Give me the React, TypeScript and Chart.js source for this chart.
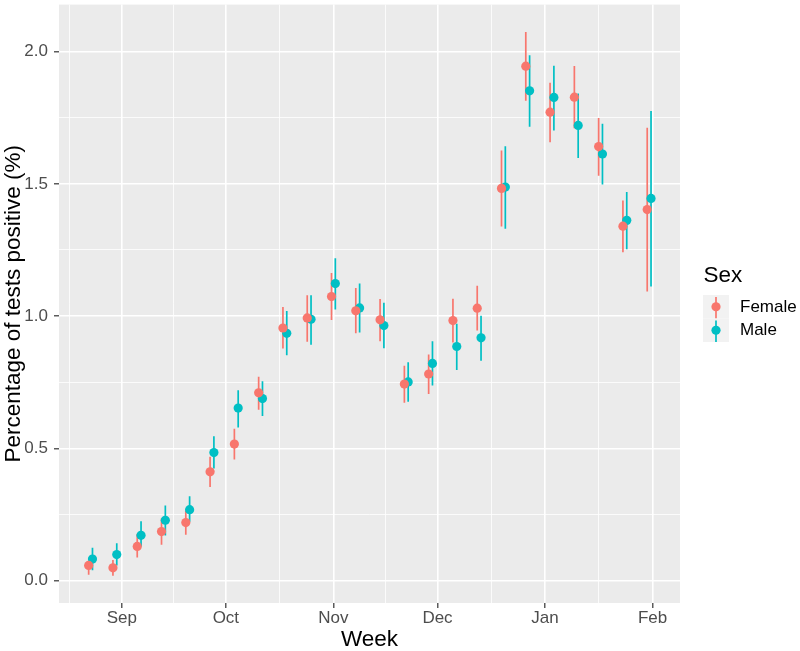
import React, { useEffect, useRef } from 'react';
import { Chart, registerables } from 'chart.js';

Chart.register(...registerables);

// Week centres, in days since 1 September
const weekDays = [-9, -2, 5, 12, 19, 26, 33, 40, 47, 54, 61, 68, 75, 82, 89, 96, 103, 110, 117, 124, 131, 138, 145, 152];

const femaleEst = [0.057, 0.048, 0.129, 0.185, 0.219, 0.411, 0.516, 0.71, 0.955, 0.993, 1.074, 1.02, 0.986, 0.743, 0.781, 0.983, 1.03, 1.483, 1.945, 1.771, 1.828, 1.641, 1.34, 1.403];
const femaleLo = [0.022, 0.018, 0.087, 0.135, 0.173, 0.354, 0.458, 0.646, 0.877, 0.903, 0.985, 0.935, 0.905, 0.672, 0.705, 0.9, 0.946, 1.339, 1.814, 1.657, 1.71, 1.531, 1.241, 1.093];
const femaleHi = [0.075, 0.078, 0.176, 0.235, 0.265, 0.468, 0.574, 0.771, 1.034, 1.079, 1.163, 1.106, 1.065, 0.812, 0.855, 1.066, 1.115, 1.626, 2.074, 1.882, 1.946, 1.749, 1.437, 1.712];

const maleEst = [0.081, 0.098, 0.171, 0.228, 0.268, 0.484, 0.652, 0.688, 0.935, 0.988, 1.123, 1.031, 0.964, 0.751, 0.821, 0.885, 0.918, 1.488, 1.852, 1.827, 1.721, 1.613, 1.362, 1.445];
const maleLo = [0.039, 0.057, 0.129, 0.17, 0.222, 0.424, 0.579, 0.622, 0.852, 0.892, 1.025, 0.938, 0.878, 0.676, 0.738, 0.796, 0.831, 1.33, 1.716, 1.702, 1.598, 1.498, 1.253, 1.112];
const maleHi = [0.124, 0.141, 0.224, 0.284, 0.319, 0.546, 0.72, 0.754, 1.019, 1.079, 1.219, 1.123, 1.05, 0.825, 0.905, 0.971, 1.001, 1.642, 1.986, 1.947, 1.842, 1.727, 1.469, 1.776];

const seriesNames = ['Female', 'Male'];
const seriesColors = ['#F8766D', '#00BFC4'];

const monthLabels = ['Sep', 'Oct', 'Nov', 'Dec', 'Jan', 'Feb'];
const monthDays = [0, 30, 61, 91, 122, 153];
const yMajorTicks = [0, 0.5, 1, 1.5, 2];
const yMinorTicks = [0.25, 0.75, 1.25, 1.75];

const X_MIN = -18.1;
const X_MAX = 160.9;
const Y_MIN = -0.085;
const Y_MAX = 2.178;
const DODGE = 0.55;

const xMinorTicks = (() => {
  const out: number[] = [monthDays[0] - (monthDays[1] - monthDays[0]) / 2];
  for (let i = 0; i < monthDays.length - 1; i++) out.push((monthDays[i] + monthDays[i + 1]) / 2);
  return out.filter((v) => v > X_MIN && v < X_MAX);
})();
const xTicks = [...xMinorTicks, ...monthDays].sort((a, b) => a - b);
const yTicks = [...yMinorTicks, ...yMajorTicks].sort((a, b) => a - b);

const isMajorX = (v: number) => monthDays.includes(v);
const isMajorY = (v: number) => yMajorTicks.includes(v);

const FONT = '"Liberation Sans", Arial, sans-serif';
const TITLE_SIZE = 22.5;
const TEXT_SIZE = 17;

const bgPlugin = {
  id: 'panelBg',
  beforeDraw(chart: any) {
    const { ctx, chartArea, width, height } = chart;
    ctx.save();
    ctx.fillStyle = '#FFFFFF';
    ctx.fillRect(0, 0, width, height);
    ctx.fillStyle = '#EBEBEB';
    ctx.fillRect(chartArea.left, chartArea.top, chartArea.right - chartArea.left, chartArea.bottom - chartArea.top);
    ctx.restore();
  },
};

const errorBarPlugin = {
  id: 'errorBars',
  beforeDatasetsDraw(chart: any) {
    const { ctx, chartArea, scales } = chart;
    const xs = scales.x;
    const ys = scales.y;
    ctx.save();
    ctx.beginPath();
    ctx.rect(chartArea.left, chartArea.top, chartArea.right - chartArea.left, chartArea.bottom - chartArea.top);
    ctx.clip();
    const dsList = chart.data.datasets.slice().reverse();
    dsList.forEach((ds: any) => {
      ctx.strokeStyle = ds.backgroundColor;
      ctx.lineWidth = 1.7;
      ds.data.forEach((pt: any, i: number) => {
        const px = xs.getPixelForValue(pt.x);
        ctx.beginPath();
        ctx.moveTo(px, ys.getPixelForValue(ds.errLo[i]));
        ctx.lineTo(px, ys.getPixelForValue(ds.errHi[i]));
        ctx.stroke();
      });
    });
    ctx.restore();
  },
};

const legendPlugin = {
  id: 'ggLegend',
  afterDraw(chart: any) {
    const { ctx } = chart;
    ctx.save();
    ctx.fillStyle = '#000000';
    ctx.textAlign = 'left';
    ctx.textBaseline = 'alphabetic';
    ctx.font = `${TITLE_SIZE}px ${FONT}`;
    ctx.fillText('Sex', 703.5, 282);
    const keyX = 703;
    const keyW = 26;
    const keyH = 23.5;
    const keyTop = 295;
    seriesNames.forEach((name, i) => {
      const top = keyTop + i * keyH;
      ctx.fillStyle = '#F2F2F2';
      ctx.fillRect(keyX, top, keyW, keyH);
      const cx = keyX + keyW / 2;
      const cy = top + keyH / 2;
      ctx.strokeStyle = seriesColors[i];
      ctx.lineWidth = 1.7;
      ctx.beginPath();
      ctx.moveTo(cx, top + 2);
      ctx.lineTo(cx, top + keyH);
      ctx.stroke();
      ctx.fillStyle = seriesColors[i];
      ctx.beginPath();
      ctx.arc(cx, cy, 4.6, 0, Math.PI * 2);
      ctx.fill();
      ctx.fillStyle = '#000000';
      ctx.font = `${TEXT_SIZE}px ${FONT}`;
      ctx.textBaseline = 'middle';
      ctx.fillText(name, 740, cy + 0.5);
      ctx.textBaseline = 'alphabetic';
    });
    ctx.restore();
  },
};

export default function App() {
  const canvasRef = useRef<HTMLCanvasElement | null>(null);

  useEffect(() => {
    if (!canvasRef.current) return;
    Chart.defaults.font.family = FONT;
    const chart = new Chart(canvasRef.current, {
      type: 'scatter',
      data: {
        datasets: [
          {
            label: seriesNames[0],
            data: weekDays.map((d, i) => ({ x: d - DODGE, y: femaleEst[i] })),
            errLo: femaleLo,
            errHi: femaleHi,
            backgroundColor: seriesColors[0],
            borderWidth: 0,
            pointRadius: 4.6,
            pointHoverRadius: 4.6,
          } as any,
          {
            label: seriesNames[1],
            data: weekDays.map((d, i) => ({ x: d + DODGE, y: maleEst[i] })),
            errLo: maleLo,
            errHi: maleHi,
            backgroundColor: seriesColors[1],
            borderWidth: 0,
            pointRadius: 4.6,
            pointHoverRadius: 4.6,
          } as any,
        ],
      },
      options: {
        animation: false,
        responsive: false,
        events: [],
        layout: { padding: { left: 0, right: 120, top: 2.7, bottom: 0 } },
        plugins: {
          legend: { display: false },
          tooltip: { enabled: false },
        },
        scales: {
          x: {
            type: 'linear',
            min: X_MIN,
            max: X_MAX,
            afterBuildTicks: (s: any) => {
              s.ticks = xTicks.map((v) => ({ value: v }));
            },
            afterFit: (s: any) => {
              s.height = 48;
              s.paddingLeft = 0;
              s.paddingRight = 0;
            },
            border: { display: false },
            grid: {
              color: '#FFFFFF',
              lineWidth: (c: any) => (c.tick && isMajorX(c.tick.value) ? 1.6 : 0.8),
              tickColor: (c: any) => (c.tick && isMajorX(c.tick.value) ? '#333333' : 'rgba(0,0,0,0)'),
              tickLength: 5,
              tickWidth: 1.2,
              drawTicks: true,
            },
            ticks: {
              autoSkip: false,
              maxRotation: 0,
              minRotation: 0,
              padding: 0.5,
              color: '#4D4D4D',
              font: { size: TEXT_SIZE, family: FONT },
              callback: (v: any) => {
                const idx = monthDays.indexOf(Number(v));
                return idx >= 0 ? monthLabels[idx] : '';
              },
            },
            title: {
              display: true,
              text: 'Week',
              color: '#000000',
              font: { size: TITLE_SIZE, family: FONT, lineHeight: 1 },
              padding: { top: 0, bottom: 0 },
            },
          },
          y: {
            type: 'linear',
            min: Y_MIN,
            max: Y_MAX,
            afterBuildTicks: (s: any) => {
              s.ticks = yTicks.map((v) => ({ value: v }));
            },
            afterFit: (s: any) => {
              s.width = 59;
              s.paddingTop = 0;
              s.paddingBottom = 0;
            },
            border: { display: false },
            grid: {
              color: '#FFFFFF',
              lineWidth: (c: any) => (c.tick && isMajorY(c.tick.value) ? 1.6 : 0.8),
              tickColor: (c: any) => (c.tick && isMajorY(c.tick.value) ? '#333333' : 'rgba(0,0,0,0)'),
              tickLength: 5,
              tickWidth: 1.2,
              drawTicks: true,
            },
            ticks: {
              autoSkip: false,
              padding: 6,
              color: '#4D4D4D',
              font: { size: TEXT_SIZE, family: FONT },
              callback: (v: any) => (isMajorY(Number(v)) ? Number(v).toFixed(1) : ''),
            },
            title: {
              display: true,
              text: 'Percentage of tests positive (%)',
              color: '#000000',
              font: { size: TITLE_SIZE, family: FONT, lineHeight: 1 },
              padding: { top: 2.5, bottom: 0 },
            },
          },
        },
      } as any,
      plugins: [bgPlugin, errorBarPlugin, legendPlugin],
    });
    return () => chart.destroy();
  }, []);

  return (
    <div style={{ position: 'fixed', left: 0, top: 0, width: 800, height: 651, background: '#FFFFFF' }}>
      <canvas ref={canvasRef} width={800} height={651} style={{ display: 'block', width: 800, height: 651 }} />
    </div>
  );
}
